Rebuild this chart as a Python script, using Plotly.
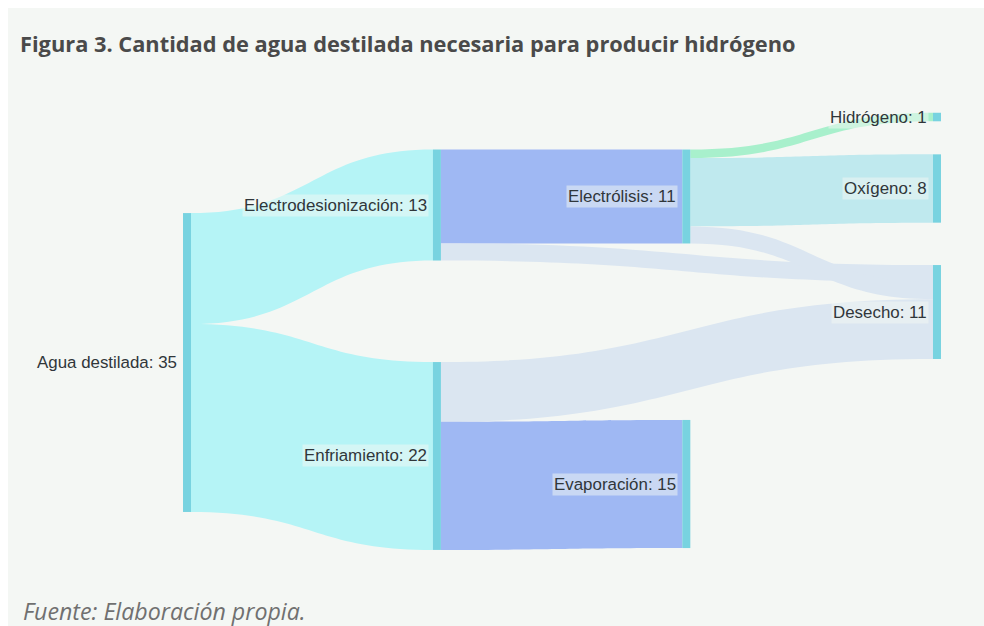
import plotly.graph_objects as go

# ---- data ----
node_labels = ["Agua destilada", "Electrodesionización", "Enfriamiento", "Electrólisis",
               "Evaporación", "Hidrógeno", "Oxígeno", "Desecho"]
link_source = [0, 0, 1, 1, 2, 2, 3, 3, 3]
link_target = [1, 2, 3, 7, 7, 4, 5, 6, 7]
link_value = [13, 22, 11, 2, 7, 15, 1, 8, 2]

title_text = "Figura 3. Cantidad de agua destilada necesaria para producir hidrógeno"
source_text = "Fuente: Elaboración propia."

# ---- layout / style ----
W, H = 976, 618
node_x = [0.0053, 0.335, 0.335, 0.664, 0.664, 0.9947, 0.9947, 0.9947]
node_y = [0.5707, 0.2283, 0.7739, 0.2098, 0.8348, 0.0370, 0.1924, 0.4609]
link_colors = ["#b5f4f6", "#b5f4f6", "#9fb8f3", "#dbe6f1", "#dbe6f1",
               "#9fb8f3", "#a8f0cc", "#bfe9ee", "#dbe6f1"]
node_color = "#78d3e0"
bg = "#f4f7f4"
thickness = 8
dom_x = [175 / W, 933 / W]
dom_y = [1 - 552 / H, 1 - 92 / H]

# node totals for labels
totals = []
for i in range(len(node_labels)):
    inflow = sum(v for t, v in zip(link_target, link_value) if t == i)
    outflow = sum(v for s, v in zip(link_source, link_value) if s == i)
    totals.append(max(inflow, outflow))
labels = [f"{n}: {v}" for n, v in zip(node_labels, totals)]

fig = go.Figure(go.Sankey(
    arrangement="fixed",
    domain=dict(x=dom_x, y=dom_y),
    node=dict(
        label=labels,
        x=node_x,
        y=node_y,
        pad=144.6,
        thickness=thickness,
        color=node_color,
        line=dict(width=0),
        align="left",
    ),
    link=dict(source=link_source, target=link_target, value=link_value,
              color=link_colors),
    textfont=dict(color="rgba(0,0,0,0)", size=1, shadow="none"),
))

# node labels, all placed on the left side of their node
annotations = []
for lab, nx, ny in zip(labels, node_x, node_y):
    ax = dom_x[0] + nx * (dom_x[1] - dom_x[0])
    ay = dom_y[1] - ny * (dom_y[1] - dom_y[0])
    annotations.append(dict(
        text=lab, xref="paper", yref="paper", x=ax, y=ay,
        xanchor="right", yanchor="middle", xshift=-(thickness / 2 + 4), showarrow=False,
        font=dict(family="Liberation Sans, Arial, sans-serif", size=16.9, color="#30363a"),
        bgcolor="rgba(244,247,244,0.5)", borderpad=1,
    ))

annotations += [
    dict(text=f"<b>{title_text}</b>", xref="paper", yref="paper",
         x=10 / W, y=1 - 36 / H, xanchor="left", yanchor="middle", showarrow=False,
         font=dict(family="Open Sans, sans-serif", size=21.8, color="#4a4a4a")),
    dict(text=f"<i>{source_text}</i>", xref="paper", yref="paper",
         x=13 / W, y=1 - 603 / H, xanchor="left", yanchor="middle", showarrow=False,
         font=dict(family="Open Sans, sans-serif", size=23.2, color="#707070")),
]

fig.update_layout(
    width=W, height=H,
    margin=dict(l=0, r=0, t=0, b=0),
    paper_bgcolor=bg,
    plot_bgcolor=bg,
    annotations=annotations,
)

fig.write_html(
    "out.html",
    config={"displayModeBar": False},
    post_script="document.body.style.margin='8px 0 0 8px';document.body.style.overflow='hidden';",
)
